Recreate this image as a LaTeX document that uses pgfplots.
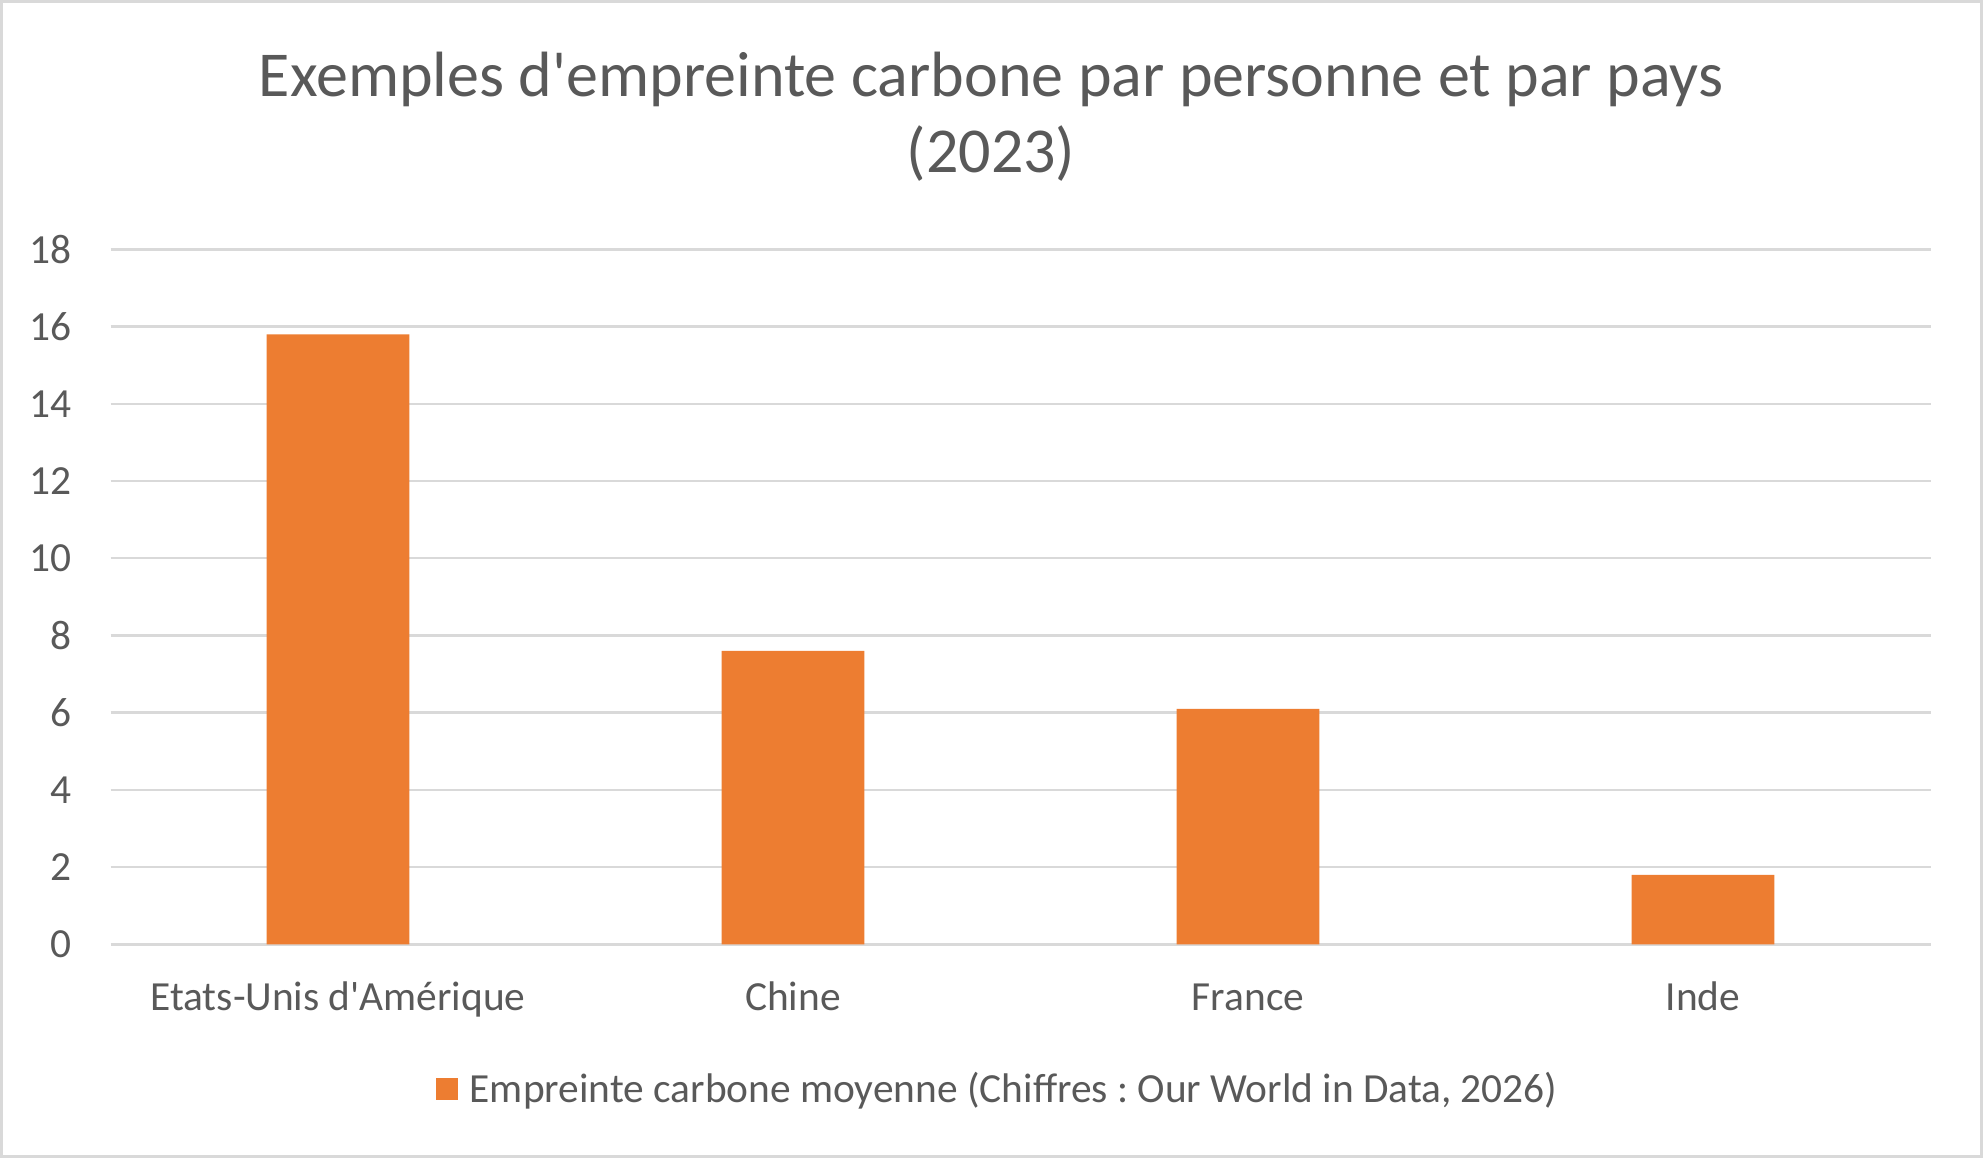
\documentclass[border=0pt]{standalone}
\usepackage{fontspec}
\setmainfont{Carlito}
\usepackage{pgfplots}
\pgfplotsset{compat=1.18}
\definecolor{barorange}{HTML}{ED7D31}
\definecolor{gridgray}{HTML}{D9D9D9}
\definecolor{txtgray}{HTML}{595959}
\frenchspacing
\begin{document}
\begin{tikzpicture}[x=0.5pt,y=-0.5pt]
% chart area frame, pixel coordinates of the reference
\fill[white] (0,0) rectangle (1983,1158);
\draw[gridgray,line width=1.5pt] (1.5,1.5) rectangle (1981.5,1156.5);
\node[anchor=base,text=txtgray,font=\fontsize{32}{36}\selectfont,inner sep=0pt] at (991,96.7) {Exemples d\textquotesingle empreinte carbone par personne et par pays};
\node[anchor=base,text=txtgray,font=\fontsize{32}{36}\selectfont,inner sep=0pt] at (991,172.5) {(2023)};
\begin{axis}[
    at={(55.25pt,-472.15pt)}, anchor=south west,
    scale only axis,
    width=910pt, height=347.5pt,
    xmin=-0.5, xmax=3.5,
    ymin=0, ymax=18,
    xtick={0,1,2,3},
    xticklabels={Etats-Unis d\textquotesingle Amérique, Chine, France, Inde},
    ytick={0,2,4,6,8,10,12,14,16,18},
    axis line style={draw=none},
    major tick length=0pt,
    ymajorgrids=true,
    grid style={line width=1.2pt,draw=gridgray},
    tick label style={text=txtgray,inner sep=0pt},
    xticklabel style={anchor=base,yshift=-32.85pt,font=\fontsize{20.7}{24}\selectfont},
    yticklabel style={anchor=east,xshift=-19.25pt,font=\fontsize{20.7}{24}\selectfont},
    /pgf/number format/assume math mode=true,
    legend style={at={(0.488,-0.2086)},anchor=center,draw=none,fill=none,
        font=\fontsize{20.7}{24}\selectfont,text=txtgray,inner sep=0pt,
        legend cell align=left},
    legend image code/.code={\fill[barorange] (0pt,-5.5pt) rectangle (11pt,5.5pt);
        \path (15pt,0pt);},
]
\addplot[ybar,bar width=71.35pt,fill=barorange,draw=none]
    coordinates {
        (0,15.8)
        (1,7.6)
        (2,6.1)
        (3,1.8)
    };
\addlegendentry{Empreinte carbone moyenne (Chiffres : Our World in Data, 2026)}
\end{axis}
\end{tikzpicture}
\end{document}
